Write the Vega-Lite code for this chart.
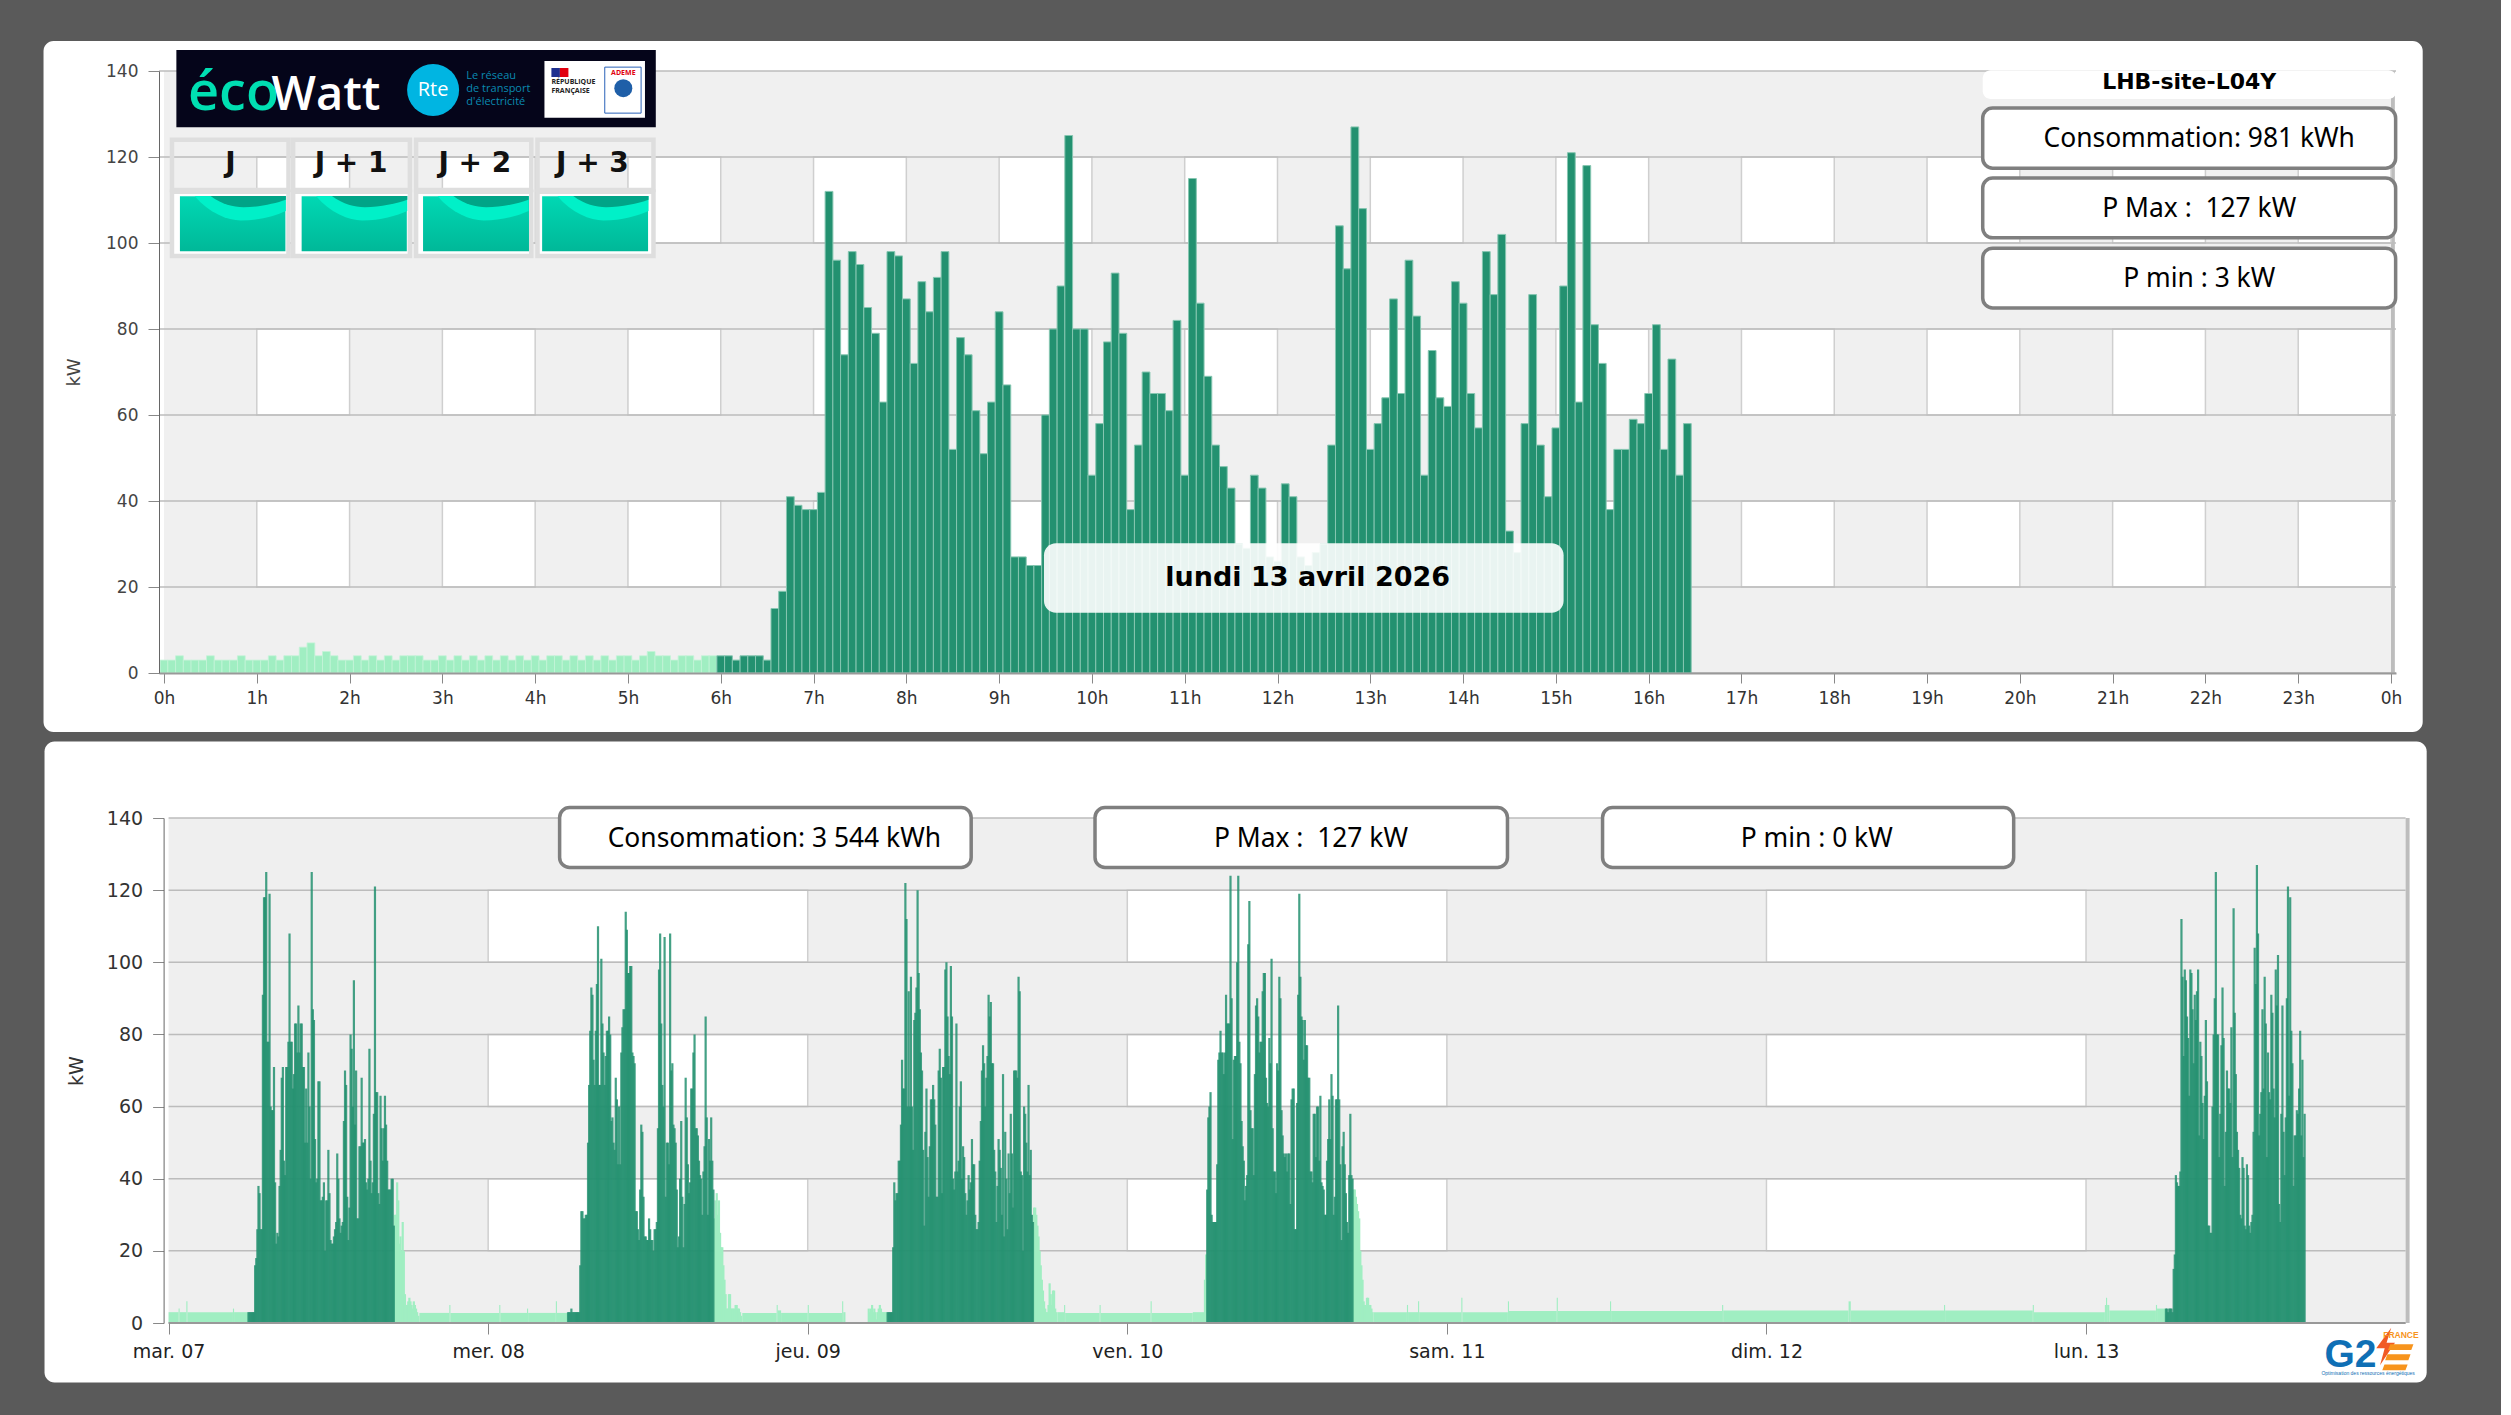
{"$schema":"https://vega.github.io/schema/vega-lite/v6.json","background":"#5a5a5a","padding":{"left":43,"top":40,"right":74,"bottom":34},"spacing":9,"bounds":"full","config":{"view":{"stroke":null},"text":{"font":"DejaVu Sans"}},
"datasets":{
"gridY":[{"v":0},{"v":20},{"v":40},{"v":60},{"v":80},{"v":100},{"v":120},{"v":140}],
"cellsTop":[{"a":12,"b":24,"lo":100,"hi":120},{"a":36,"b":48,"lo":100,"hi":120},{"a":60,"b":72,"lo":100,"hi":120},{"a":84,"b":96,"lo":100,"hi":120},{"a":108,"b":120,"lo":100,"hi":120},{"a":132,"b":144,"lo":100,"hi":120},{"a":156,"b":168,"lo":100,"hi":120},{"a":180,"b":192,"lo":100,"hi":120},{"a":204,"b":216,"lo":100,"hi":120},{"a":228,"b":240,"lo":100,"hi":120},{"a":252,"b":264,"lo":100,"hi":120},{"a":276,"b":288,"lo":100,"hi":120},{"a":12,"b":24,"lo":60,"hi":80},{"a":36,"b":48,"lo":60,"hi":80},{"a":60,"b":72,"lo":60,"hi":80},{"a":84,"b":96,"lo":60,"hi":80},{"a":108,"b":120,"lo":60,"hi":80},{"a":132,"b":144,"lo":60,"hi":80},{"a":156,"b":168,"lo":60,"hi":80},{"a":180,"b":192,"lo":60,"hi":80},{"a":204,"b":216,"lo":60,"hi":80},{"a":228,"b":240,"lo":60,"hi":80},{"a":252,"b":264,"lo":60,"hi":80},{"a":276,"b":288,"lo":60,"hi":80},{"a":12,"b":24,"lo":20,"hi":40},{"a":36,"b":48,"lo":20,"hi":40},{"a":60,"b":72,"lo":20,"hi":40},{"a":84,"b":96,"lo":20,"hi":40},{"a":108,"b":120,"lo":20,"hi":40},{"a":132,"b":144,"lo":20,"hi":40},{"a":156,"b":168,"lo":20,"hi":40},{"a":180,"b":192,"lo":20,"hi":40},{"a":204,"b":216,"lo":20,"hi":40},{"a":228,"b":240,"lo":20,"hi":40},{"a":252,"b":264,"lo":20,"hi":40},{"a":276,"b":288,"lo":20,"hi":40}],
"cellsWeek":[{"a":288,"b":576,"lo":100,"hi":120},{"a":864,"b":1152,"lo":100,"hi":120},{"a":1440,"b":1728,"lo":100,"hi":120},{"a":288,"b":576,"lo":60,"hi":80},{"a":864,"b":1152,"lo":60,"hi":80},{"a":1440,"b":1728,"lo":60,"hi":80},{"a":288,"b":576,"lo":20,"hi":40},{"a":864,"b":1152,"lo":20,"hi":40},{"a":1440,"b":1728,"lo":20,"hi":40}],
"topOff":[{"s":0,"v":3},{"s":1,"v":3},{"s":2,"v":4},{"s":3,"v":3},{"s":4,"v":3},{"s":5,"v":3},{"s":6,"v":4},{"s":7,"v":3},{"s":8,"v":3},{"s":9,"v":3},{"s":10,"v":4},{"s":11,"v":3},{"s":12,"v":3},{"s":13,"v":3},{"s":14,"v":4},{"s":15,"v":3},{"s":16,"v":4},{"s":17,"v":4},{"s":18,"v":6},{"s":19,"v":7},{"s":20,"v":4},{"s":21,"v":5},{"s":22,"v":4},{"s":23,"v":3},{"s":24,"v":3},{"s":25,"v":4},{"s":26,"v":3},{"s":27,"v":4},{"s":28,"v":3},{"s":29,"v":4},{"s":30,"v":3},{"s":31,"v":4},{"s":32,"v":4},{"s":33,"v":4},{"s":34,"v":3},{"s":35,"v":3},{"s":36,"v":4},{"s":37,"v":3},{"s":38,"v":4},{"s":39,"v":3},{"s":40,"v":4},{"s":41,"v":3},{"s":42,"v":4},{"s":43,"v":3},{"s":44,"v":4},{"s":45,"v":3},{"s":46,"v":4},{"s":47,"v":3},{"s":48,"v":4},{"s":49,"v":3},{"s":50,"v":4},{"s":51,"v":4},{"s":52,"v":3},{"s":53,"v":4},{"s":54,"v":3},{"s":55,"v":4},{"s":56,"v":3},{"s":57,"v":4},{"s":58,"v":3},{"s":59,"v":4},{"s":60,"v":4},{"s":61,"v":3},{"s":62,"v":4},{"s":63,"v":5},{"s":64,"v":4},{"s":65,"v":4},{"s":66,"v":3},{"s":67,"v":4},{"s":68,"v":4},{"s":69,"v":3},{"s":70,"v":4},{"s":71,"v":4}],
"topOn":[{"s":72,"v":4},{"s":73,"v":4},{"s":74,"v":3},{"s":75,"v":4},{"s":76,"v":4},{"s":77,"v":4},{"s":78,"v":3},{"s":79,"v":15},{"s":80,"v":19},{"s":81,"v":41},{"s":82,"v":39},{"s":83,"v":38},{"s":84,"v":38},{"s":85,"v":42},{"s":86,"v":112},{"s":87,"v":96},{"s":88,"v":74},{"s":89,"v":98},{"s":90,"v":95},{"s":91,"v":85},{"s":92,"v":79},{"s":93,"v":63},{"s":94,"v":98},{"s":95,"v":97},{"s":96,"v":87},{"s":97,"v":72},{"s":98,"v":91},{"s":99,"v":84},{"s":100,"v":92},{"s":101,"v":98},{"s":102,"v":52},{"s":103,"v":78},{"s":104,"v":74},{"s":105,"v":61},{"s":106,"v":51},{"s":107,"v":63},{"s":108,"v":84},{"s":109,"v":67},{"s":110,"v":27},{"s":111,"v":27},{"s":112,"v":25},{"s":113,"v":25},{"s":114,"v":60},{"s":115,"v":80},{"s":116,"v":90},{"s":117,"v":125},{"s":118,"v":80},{"s":119,"v":80},{"s":120,"v":46},{"s":121,"v":58},{"s":122,"v":77},{"s":123,"v":93},{"s":124,"v":79},{"s":125,"v":38},{"s":126,"v":53},{"s":127,"v":70},{"s":128,"v":65},{"s":129,"v":65},{"s":130,"v":61},{"s":131,"v":82},{"s":132,"v":46},{"s":133,"v":115},{"s":134,"v":86},{"s":135,"v":69},{"s":136,"v":53},{"s":137,"v":48},{"s":138,"v":43},{"s":139,"v":30},{"s":140,"v":29},{"s":141,"v":46},{"s":142,"v":43},{"s":143,"v":27},{"s":144,"v":26},{"s":145,"v":44},{"s":146,"v":41},{"s":147,"v":27},{"s":148,"v":25},{"s":149,"v":28},{"s":150,"v":30},{"s":151,"v":53},{"s":152,"v":104},{"s":153,"v":94},{"s":154,"v":127},{"s":155,"v":108},{"s":156,"v":52},{"s":157,"v":58},{"s":158,"v":64},{"s":159,"v":87},{"s":160,"v":65},{"s":161,"v":96},{"s":162,"v":83},{"s":163,"v":46},{"s":164,"v":75},{"s":165,"v":64},{"s":166,"v":62},{"s":167,"v":91},{"s":168,"v":86},{"s":169,"v":65},{"s":170,"v":57},{"s":171,"v":98},{"s":172,"v":88},{"s":173,"v":102},{"s":174,"v":33},{"s":175,"v":28},{"s":176,"v":58},{"s":177,"v":88},{"s":178,"v":53},{"s":179,"v":41},{"s":180,"v":57},{"s":181,"v":90},{"s":182,"v":121},{"s":183,"v":63},{"s":184,"v":118},{"s":185,"v":81},{"s":186,"v":72},{"s":187,"v":38},{"s":188,"v":52},{"s":189,"v":52},{"s":190,"v":59},{"s":191,"v":58},{"s":192,"v":65},{"s":193,"v":81},{"s":194,"v":52},{"s":195,"v":73},{"s":196,"v":46},{"s":197,"v":58}],
"weekQuiet":[{"a":0,"b":9,"v":3},{"a":9,"b":10,"v":4},{"a":10,"b":16,"v":3},{"a":16,"b":17,"v":6},{"a":17,"b":58,"v":3},{"a":58,"b":59,"v":4},{"a":59,"b":72,"v":3},{"a":226,"b":253,"v":2.8},{"a":253,"b":254,"v":5},{"a":254,"b":298,"v":2.8},{"a":298,"b":299,"v":5},{"a":299,"b":323,"v":2.8},{"a":323,"b":324,"v":4},{"a":324,"b":349,"v":2.8},{"a":349,"b":350,"v":6},{"a":350,"b":360,"v":2.8},{"a":517,"b":548,"v":2.8},{"a":548,"b":549,"v":5},{"a":549,"b":552,"v":3.5},{"a":552,"b":576,"v":2.8},{"a":576,"b":577,"v":5},{"a":577,"b":607,"v":2.8},{"a":607,"b":608,"v":6},{"a":608,"b":610,"v":3},{"a":801,"b":807,"v":3},{"a":807,"b":808,"v":5},{"a":808,"b":839,"v":2.8},{"a":839,"b":840,"v":5},{"a":840,"b":885,"v":2.8},{"a":885,"b":886,"v":6},{"a":886,"b":923,"v":2.8},{"a":923,"b":934,"v":3},{"a":1086,"b":1116,"v":3},{"a":1116,"b":1117,"v":5},{"a":1117,"b":1126,"v":3},{"a":1126,"b":1127,"v":6},{"a":1127,"b":1165,"v":3},{"a":1165,"b":1166,"v":7},{"a":1166,"b":1207,"v":3},{"a":1207,"b":1208,"v":6},{"a":1208,"b":1251,"v":3.3},{"a":1251,"b":1252,"v":7},{"a":1252,"b":1299,"v":3.3},{"a":1299,"b":1300,"v":6},{"a":1300,"b":1400,"v":3.3},{"a":1400,"b":1401,"v":5},{"a":1401,"b":1514,"v":3.5},{"a":1514,"b":1516,"v":6},{"a":1516,"b":1600,"v":3.5},{"a":1600,"b":1601,"v":5},{"a":1601,"b":1680,"v":3.5},{"a":1680,"b":1681,"v":5},{"a":1681,"b":1745,"v":3},{"a":1745,"b":1746,"v":5},{"a":1746,"b":1747,"v":7},{"a":1747,"b":1749,"v":5},{"a":1749,"b":1791,"v":3.5},{"a":1791,"b":1792,"v":5},{"a":1792,"b":1800,"v":4}],
"weekOff":[{"s":204,"v":30},{"s":205,"v":30},{"s":206,"v":39},{"s":207,"v":34},{"s":208,"v":22},{"s":209,"v":24},{"s":210,"v":20},{"s":211,"v":28},{"s":212,"v":20},{"s":213,"v":8},{"s":214,"v":5},{"s":215,"v":5},{"s":216,"v":6},{"s":217,"v":7},{"s":218,"v":6},{"s":219,"v":5},{"s":220,"v":4},{"s":221,"v":6},{"s":222,"v":5},{"s":223,"v":4},{"s":224,"v":3},{"s":225,"v":2},
{"s":492,"v":29},{"s":493,"v":34},{"s":494,"v":36},{"s":495,"v":30},{"s":496,"v":34},{"s":497,"v":25},{"s":498,"v":21},{"s":499,"v":21},{"s":500,"v":16},{"s":501,"v":12},{"s":502,"v":8},{"s":503,"v":4},{"s":504,"v":4},{"s":505,"v":8},{"s":506,"v":8},{"s":507,"v":4},{"s":508,"v":4},{"s":509,"v":4},{"s":510,"v":4},{"s":511,"v":5},{"s":512,"v":5},{"s":513,"v":4},{"s":514,"v":4},{"s":515,"v":3},{"s":516,"v":2},
{"s":631,"v":4},{"s":632,"v":3},{"s":633,"v":4},{"s":634,"v":5},{"s":635,"v":3},{"s":636,"v":4},{"s":637,"v":3},{"s":638,"v":1},{"s":639,"v":3},{"s":640,"v":4},{"s":641,"v":5},{"s":642,"v":4},{"s":643,"v":3},{"s":644,"v":3},{"s":645,"v":3},{"s":646,"v":3},{"s":647,"v":3},
{"s":780,"v":32},{"s":781,"v":32},{"s":782,"v":30},{"s":783,"v":27},{"s":784,"v":24},{"s":785,"v":20},{"s":786,"v":16},{"s":787,"v":12},{"s":788,"v":9},{"s":789,"v":6},{"s":790,"v":4},{"s":791,"v":3},{"s":792,"v":3},{"s":793,"v":5},{"s":794,"v":11},{"s":795,"v":8},{"s":796,"v":5},{"s":797,"v":9},{"s":798,"v":9},{"s":799,"v":4},{"s":800,"v":3},
{"s":934,"v":12},{"s":935,"v":19},
{"s":1068,"v":37},{"s":1069,"v":37},{"s":1070,"v":35},{"s":1071,"v":33},{"s":1072,"v":31},{"s":1073,"v":29},{"s":1074,"v":20},{"s":1075,"v":16},{"s":1076,"v":12},{"s":1077,"v":6},{"s":1078,"v":5},{"s":1079,"v":5},{"s":1080,"v":7},{"s":1081,"v":7},{"s":1082,"v":5},{"s":1083,"v":5},{"s":1084,"v":4},{"s":1085,"v":3}],
"weekOn":[{"s":72,"v":3},{"s":73,"v":3},{"s":74,"v":3},{"s":75,"v":3},{"s":76,"v":3},{"s":77,"v":3},{"s":78,"v":16},{"s":79,"v":18},{"s":80,"v":26},{"s":81,"v":38},{"s":82,"v":36},{"s":83,"v":26},{"s":84,"v":26},{"s":85,"v":91},{"s":86,"v":118},{"s":87,"v":118},{"s":88,"v":125},{"s":89,"v":78},{"s":90,"v":78},{"s":91,"v":119},{"s":92,"v":60},{"s":93,"v":59},{"s":94,"v":59},{"s":95,"v":71},{"s":96,"v":39},{"s":97,"v":22},{"s":98,"v":25},{"s":99,"v":24},{"s":100,"v":38},{"s":101,"v":48},{"s":102,"v":68},{"s":103,"v":71},{"s":104,"v":45},{"s":105,"v":41},{"s":106,"v":71},{"s":107,"v":71},{"s":108,"v":78},{"s":109,"v":108},{"s":110,"v":78},{"s":111,"v":78},{"s":112,"v":65},{"s":113,"v":69},{"s":114,"v":83},{"s":115,"v":83},{"s":116,"v":75},{"s":117,"v":88},{"s":118,"v":75},{"s":119,"v":83},{"s":120,"v":83},{"s":121,"v":71},{"s":122,"v":71},{"s":123,"v":50},{"s":124,"v":65},{"s":125,"v":50},{"s":126,"v":75},{"s":127,"v":60},{"s":128,"v":40},{"s":129,"v":125},{"s":130,"v":87},{"s":131,"v":84},{"s":132,"v":51},{"s":133,"v":39},{"s":134,"v":40},{"s":135,"v":67},{"s":136,"v":67},{"s":137,"v":34},{"s":138,"v":34},{"s":139,"v":35},{"s":140,"v":39},{"s":141,"v":20},{"s":142,"v":34},{"s":143,"v":34},{"s":144,"v":48},{"s":145,"v":36},{"s":146,"v":23},{"s":147,"v":22},{"s":148,"v":22},{"s":149,"v":24},{"s":150,"v":26},{"s":151,"v":28},{"s":152,"v":47},{"s":153,"v":40},{"s":154,"v":29},{"s":155,"v":25},{"s":156,"v":27},{"s":157,"v":28},{"s":158,"v":56},{"s":159,"v":70},{"s":160,"v":66},{"s":161,"v":35},{"s":162,"v":23},{"s":163,"v":32},{"s":164,"v":80},{"s":165,"v":76},{"s":166,"v":60},{"s":167,"v":95},{"s":168,"v":55},{"s":169,"v":70},{"s":170,"v":29},{"s":171,"v":29},{"s":172,"v":49},{"s":173,"v":49},{"s":174,"v":68},{"s":175,"v":50},{"s":176,"v":50},{"s":177,"v":51},{"s":178,"v":39},{"s":179,"v":37},{"s":180,"v":40},{"s":181,"v":76},{"s":182,"v":45},{"s":183,"v":36},{"s":184,"v":39},{"s":185,"v":58},{"s":186,"v":121},{"s":187,"v":64},{"s":188,"v":64},{"s":189,"v":36},{"s":190,"v":33},{"s":191,"v":63},{"s":192,"v":54},{"s":193,"v":45},{"s":194,"v":54},{"s":195,"v":63},{"s":196,"v":55},{"s":197,"v":45},{"s":198,"v":37},{"s":199,"v":37},{"s":200,"v":37},{"s":201,"v":40},{"s":202,"v":40},{"s":203,"v":27},
{"s":360,"v":3},{"s":361,"v":3},{"s":362,"v":3},{"s":363,"v":4},{"s":364,"v":3},{"s":365,"v":3},{"s":366,"v":3},{"s":367,"v":3},{"s":368,"v":3},{"s":369,"v":3},{"s":370,"v":3},{"s":371,"v":16},{"s":372,"v":31},{"s":373,"v":31},{"s":374,"v":29},{"s":375,"v":29},{"s":376,"v":30},{"s":377,"v":30},{"s":378,"v":50},{"s":379,"v":66},{"s":380,"v":81},{"s":381,"v":93},{"s":382,"v":91},{"s":383,"v":73},{"s":384,"v":66},{"s":385,"v":81},{"s":386,"v":94},{"s":387,"v":110},{"s":388,"v":66},{"s":389,"v":66},{"s":390,"v":101},{"s":391,"v":83},{"s":392,"v":75},{"s":393,"v":66},{"s":394,"v":74},{"s":395,"v":81},{"s":396,"v":81},{"s":397,"v":85},{"s":398,"v":80},{"s":399,"v":56},{"s":400,"v":57},{"s":401,"v":50},{"s":402,"v":48},{"s":403,"v":68},{"s":404,"v":62},{"s":405,"v":44},{"s":406,"v":60},{"s":407,"v":44},{"s":408,"v":75},{"s":409,"v":82},{"s":410,"v":87},{"s":411,"v":87},{"s":412,"v":114},{"s":413,"v":109},{"s":414,"v":97},{"s":415,"v":97},{"s":416,"v":99},{"s":417,"v":99},{"s":418,"v":75},{"s":419,"v":74},{"s":420,"v":72},{"s":421,"v":31},{"s":422,"v":31},{"s":423,"v":26},{"s":424,"v":23},{"s":425,"v":37},{"s":426,"v":55},{"s":427,"v":53},{"s":428,"v":35},{"s":429,"v":24},{"s":430,"v":24},{"s":431,"v":23},{"s":432,"v":23},{"s":433,"v":29},{"s":434,"v":26},{"s":435,"v":23},{"s":436,"v":23},{"s":437,"v":20},{"s":438,"v":26},{"s":439,"v":26},{"s":440,"v":28},{"s":441,"v":54},{"s":442,"v":98},{"s":443,"v":108},{"s":444,"v":83},{"s":445,"v":66},{"s":446,"v":60},{"s":447,"v":107},{"s":448,"v":35},{"s":449,"v":50},{"s":450,"v":50},{"s":451,"v":44},{"s":452,"v":108},{"s":453,"v":70},{"s":454,"v":72},{"s":455,"v":55},{"s":456,"v":54},{"s":457,"v":50},{"s":458,"v":37},{"s":459,"v":21},{"s":460,"v":24},{"s":461,"v":40},{"s":462,"v":56},{"s":463,"v":35},{"s":464,"v":21},{"s":465,"v":33},{"s":466,"v":68},{"s":467,"v":57},{"s":468,"v":44},{"s":469,"v":36},{"s":470,"v":39},{"s":471,"v":65},{"s":472,"v":65},{"s":473,"v":75},{"s":474,"v":80},{"s":475,"v":54},{"s":476,"v":54},{"s":477,"v":52},{"s":478,"v":45},{"s":479,"v":41},{"s":480,"v":40},{"s":481,"v":30},{"s":482,"v":42},{"s":483,"v":49},{"s":484,"v":85},{"s":485,"v":57},{"s":486,"v":30},{"s":487,"v":51},{"s":488,"v":45},{"s":489,"v":57},{"s":490,"v":45},{"s":491,"v":37},
{"s":648,"v":3},{"s":649,"v":3},{"s":650,"v":3},{"s":651,"v":3},{"s":652,"v":3},{"s":653,"v":21},{"s":654,"v":39},{"s":655,"v":34},{"s":656,"v":36},{"s":657,"v":36},{"s":658,"v":45},{"s":659,"v":45},{"s":660,"v":55},{"s":661,"v":73},{"s":662,"v":65},{"s":663,"v":65},{"s":664,"v":122},{"s":665,"v":112},{"s":666,"v":60},{"s":667,"v":92},{"s":668,"v":60},{"s":669,"v":96},{"s":670,"v":60},{"s":671,"v":48},{"s":672,"v":84},{"s":673,"v":86},{"s":674,"v":93},{"s":675,"v":120},{"s":676,"v":97},{"s":677,"v":87},{"s":678,"v":75},{"s":679,"v":70},{"s":680,"v":48},{"s":681,"v":27},{"s":682,"v":53},{"s":683,"v":65},{"s":684,"v":46},{"s":685,"v":35},{"s":686,"v":49},{"s":687,"v":62},{"s":688,"v":62},{"s":689,"v":66},{"s":690,"v":62},{"s":691,"v":55},{"s":692,"v":35},{"s":693,"v":35},{"s":694,"v":70},{"s":695,"v":76},{"s":696,"v":68},{"s":697,"v":36},{"s":698,"v":71},{"s":699,"v":71},{"s":700,"v":98},{"s":701,"v":100},{"s":702,"v":85},{"s":703,"v":74},{"s":704,"v":69},{"s":705,"v":99},{"s":706,"v":85},{"s":707,"v":40},{"s":708,"v":37},{"s":709,"v":42},{"s":710,"v":83},{"s":711,"v":42},{"s":712,"v":45},{"s":713,"v":60},{"s":714,"v":67},{"s":715,"v":40},{"s":716,"v":49},{"s":717,"v":46},{"s":718,"v":36},{"s":719,"v":30},{"s":720,"v":34},{"s":721,"v":41},{"s":722,"v":37},{"s":723,"v":39},{"s":724,"v":51},{"s":725,"v":44},{"s":726,"v":44},{"s":727,"v":30},{"s":728,"v":26},{"s":729,"v":26},{"s":730,"v":28},{"s":731,"v":45},{"s":732,"v":56},{"s":733,"v":70},{"s":734,"v":77},{"s":735,"v":72},{"s":736,"v":60},{"s":737,"v":68},{"s":738,"v":74},{"s":739,"v":91},{"s":740,"v":85},{"s":741,"v":89},{"s":742,"v":72},{"s":743,"v":72},{"s":744,"v":48},{"s":745,"v":42},{"s":746,"v":28},{"s":747,"v":38},{"s":748,"v":51},{"s":749,"v":48},{"s":750,"v":43},{"s":751,"v":30},{"s":752,"v":69},{"s":753,"v":24},{"s":754,"v":53},{"s":755,"v":40},{"s":756,"v":26},{"s":757,"v":47},{"s":758,"v":36},{"s":759,"v":58},{"s":760,"v":47},{"s":761,"v":32},{"s":762,"v":70},{"s":763,"v":70},{"s":764,"v":70},{"s":765,"v":68},{"s":766,"v":96},{"s":767,"v":92},{"s":768,"v":42},{"s":769,"v":41},{"s":770,"v":20},{"s":771,"v":60},{"s":772,"v":58},{"s":773,"v":50},{"s":774,"v":42},{"s":775,"v":66},{"s":776,"v":41},{"s":777,"v":48},{"s":778,"v":30},{"s":779,"v":28},
{"s":936,"v":37},{"s":937,"v":57},{"s":938,"v":60},{"s":939,"v":64},{"s":940,"v":30},{"s":941,"v":28},{"s":942,"v":28},{"s":943,"v":28},{"s":944,"v":28},{"s":945,"v":44},{"s":946,"v":73},{"s":947,"v":75},{"s":948,"v":81},{"s":949,"v":75},{"s":950,"v":75},{"s":951,"v":69},{"s":952,"v":75},{"s":953,"v":91},{"s":954,"v":83},{"s":955,"v":83},{"s":956,"v":83},{"s":957,"v":124},{"s":958,"v":90},{"s":959,"v":51},{"s":960,"v":73},{"s":961,"v":74},{"s":962,"v":74},{"s":963,"v":100},{"s":964,"v":124},{"s":965,"v":78},{"s":966,"v":72},{"s":967,"v":56},{"s":968,"v":49},{"s":969,"v":45},{"s":970,"v":34},{"s":971,"v":38},{"s":972,"v":41},{"s":973,"v":105},{"s":974,"v":117},{"s":975,"v":59},{"s":976,"v":54},{"s":977,"v":54},{"s":978,"v":41},{"s":979,"v":69},{"s":980,"v":88},{"s":981,"v":90},{"s":982,"v":85},{"s":983,"v":75},{"s":984,"v":78},{"s":985,"v":78},{"s":986,"v":92},{"s":987,"v":97},{"s":988,"v":97},{"s":989,"v":68},{"s":990,"v":61},{"s":991,"v":60},{"s":992,"v":79},{"s":993,"v":72},{"s":994,"v":101},{"s":995,"v":54},{"s":996,"v":42},{"s":997,"v":42},{"s":998,"v":36},{"s":999,"v":72},{"s":1000,"v":70},{"s":1001,"v":96},{"s":1002,"v":90},{"s":1003,"v":59},{"s":1004,"v":52},{"s":1005,"v":47},{"s":1006,"v":46},{"s":1007,"v":47},{"s":1008,"v":42},{"s":1009,"v":47},{"s":1010,"v":47},{"s":1011,"v":33},{"s":1012,"v":62},{"s":1013,"v":65},{"s":1014,"v":65},{"s":1015,"v":26},{"s":1016,"v":26},{"s":1017,"v":61},{"s":1018,"v":91},{"s":1019,"v":119},{"s":1020,"v":96},{"s":1021,"v":85},{"s":1022,"v":84},{"s":1023,"v":73},{"s":1024,"v":84},{"s":1025,"v":77},{"s":1026,"v":77},{"s":1027,"v":68},{"s":1028,"v":68},{"s":1029,"v":42},{"s":1030,"v":42},{"s":1031,"v":39},{"s":1032,"v":58},{"s":1033,"v":58},{"s":1034,"v":46},{"s":1035,"v":60},{"s":1036,"v":60},{"s":1037,"v":45},{"s":1038,"v":63},{"s":1039,"v":39},{"s":1040,"v":38},{"s":1041,"v":37},{"s":1042,"v":30},{"s":1043,"v":30},{"s":1044,"v":45},{"s":1045,"v":51},{"s":1046,"v":62},{"s":1047,"v":51},{"s":1048,"v":69},{"s":1049,"v":63},{"s":1050,"v":30},{"s":1051,"v":35},{"s":1052,"v":62},{"s":1053,"v":62},{"s":1054,"v":88},{"s":1055,"v":62},{"s":1056,"v":44},{"s":1057,"v":23},{"s":1058,"v":49},{"s":1059,"v":53},{"s":1060,"v":44},{"s":1061,"v":36},{"s":1062,"v":28},{"s":1063,"v":25},{"s":1064,"v":41},{"s":1065,"v":58},{"s":1066,"v":41},{"s":1067,"v":40},
{"s":1800,"v":4},{"s":1801,"v":4},{"s":1802,"v":3},{"s":1803,"v":4},{"s":1804,"v":4},{"s":1805,"v":4},{"s":1806,"v":3},{"s":1807,"v":15},{"s":1808,"v":19},{"s":1809,"v":41},{"s":1810,"v":39},{"s":1811,"v":38},{"s":1812,"v":38},{"s":1813,"v":42},{"s":1814,"v":112},{"s":1815,"v":96},{"s":1816,"v":74},{"s":1817,"v":98},{"s":1818,"v":95},{"s":1819,"v":85},{"s":1820,"v":79},{"s":1821,"v":63},{"s":1822,"v":98},{"s":1823,"v":97},{"s":1824,"v":87},{"s":1825,"v":72},{"s":1826,"v":91},{"s":1827,"v":84},{"s":1828,"v":92},{"s":1829,"v":98},{"s":1830,"v":52},{"s":1831,"v":78},{"s":1832,"v":74},{"s":1833,"v":61},{"s":1834,"v":51},{"s":1835,"v":63},{"s":1836,"v":84},{"s":1837,"v":67},{"s":1838,"v":27},{"s":1839,"v":27},{"s":1840,"v":25},{"s":1841,"v":25},{"s":1842,"v":60},{"s":1843,"v":80},{"s":1844,"v":90},{"s":1845,"v":125},{"s":1846,"v":80},{"s":1847,"v":80},{"s":1848,"v":46},{"s":1849,"v":58},{"s":1850,"v":77},{"s":1851,"v":93},{"s":1852,"v":79},{"s":1853,"v":38},{"s":1854,"v":53},{"s":1855,"v":70},{"s":1856,"v":65},{"s":1857,"v":65},{"s":1858,"v":61},{"s":1859,"v":82},{"s":1860,"v":46},{"s":1861,"v":115},{"s":1862,"v":86},{"s":1863,"v":69},{"s":1864,"v":53},{"s":1865,"v":48},{"s":1866,"v":43},{"s":1867,"v":30},{"s":1868,"v":29},{"s":1869,"v":46},{"s":1870,"v":43},{"s":1871,"v":27},{"s":1872,"v":26},{"s":1873,"v":44},{"s":1874,"v":41},{"s":1875,"v":27},{"s":1876,"v":25},{"s":1877,"v":28},{"s":1878,"v":30},{"s":1879,"v":53},{"s":1880,"v":104},{"s":1881,"v":94},{"s":1882,"v":127},{"s":1883,"v":108},{"s":1884,"v":52},{"s":1885,"v":58},{"s":1886,"v":64},{"s":1887,"v":87},{"s":1888,"v":65},{"s":1889,"v":96},{"s":1890,"v":83},{"s":1891,"v":46},{"s":1892,"v":75},{"s":1893,"v":64},{"s":1894,"v":62},{"s":1895,"v":91},{"s":1896,"v":86},{"s":1897,"v":65},{"s":1898,"v":57},{"s":1899,"v":98},{"s":1900,"v":88},{"s":1901,"v":102},{"s":1902,"v":33},{"s":1903,"v":28},{"s":1904,"v":58},{"s":1905,"v":88},{"s":1906,"v":53},{"s":1907,"v":41},{"s":1908,"v":57},{"s":1909,"v":90},{"s":1910,"v":121},{"s":1911,"v":63},{"s":1912,"v":118},{"s":1913,"v":81},{"s":1914,"v":72},{"s":1915,"v":38},{"s":1916,"v":52},{"s":1917,"v":52},{"s":1918,"v":59},{"s":1919,"v":58},{"s":1920,"v":65},{"s":1921,"v":81},{"s":1922,"v":52},{"s":1923,"v":73},{"s":1924,"v":46},{"s":1925,"v":58}]
},
"vconcat":[
{"width":2237,"height":602,"layer":[
{"data":{"values":[{"a":-15.58,"b":292.1,"lo":-13.7,"hi":147}]},"mark":{"type":"rect","fill":"#ffffff","cornerRadius":10},"encoding":{
"x":{"field":"a","type":"quantitative","scale":{"domain":[0,288],"nice":false,"zero":false},"title":null,"axis":{"values":[0,12,24,36,48,60,72,84,96,108,120,132,144,156,168,180,192,204,216,228,240,252,264,276,288],"labelExpr":"(datum.value/12)%24+'h'","grid":false,"zindex":1,"domainColor":"#999999","domainWidth":2,"tickColor":"#888888","tickSize":10,"labelFontSize":17,"labelFont":"DejaVu Sans","labelColor":"#333333","labelPadding":7,"labelOverlap":false,"labelFlush":false}},"x2":{"field":"b"},
"y":{"field":"lo","type":"quantitative","scale":{"domain":[0,140],"nice":false,"zero":false},"title":"kW","axis":{"values":[0,20,40,60,80,100,120,140],"grid":false,"zindex":1,"domainColor":"#666666","tickColor":"#888888","tickSize":11,"labelFontSize":17,"labelFont":"DejaVu Sans","labelColor":"#444444","labelPadding":10,"titleFontSize":18,"titleFont":"DejaVu Sans","titleFontWeight":"normal","titleColor":"#444444","titlePadding":22}},"y2":{"field":"hi"}}},
{"data":{"values":[{"a":0,"b":288,"lo":0,"hi":140}]},"mark":{"type":"rect","fill":"#f0f0f0"},"encoding":{"x":{"field":"a","type":"quantitative"},"x2":{"field":"b"},"y":{"field":"lo","type":"quantitative"},"y2":{"field":"hi"}}},
{"data":{"values":[{"a":288,"b":288.5,"lo":0,"hi":140}]},"mark":{"type":"rect","fill":"#bdbdbd"},"encoding":{"x":{"field":"a","type":"quantitative"},"x2":{"field":"b"},"y":{"field":"lo","type":"quantitative"},"y2":{"field":"hi"}}},
{"data":{"name":"cellsTop"},"mark":{"type":"rect","fill":"#ffffff","stroke":"#cfcfcf","strokeWidth":1.5},"encoding":{"x":{"field":"a","type":"quantitative"},"x2":{"field":"b"},"y":{"field":"lo","type":"quantitative"},"y2":{"field":"hi"}}},
{"data":{"name":"gridY"},"mark":{"type":"rule","color":"#bcbcbc","strokeWidth":1.5},"encoding":{"y":{"field":"v","type":"quantitative"}}},
{"data":{"name":"topOff"},"mark":{"type":"bar","orient":"vertical","width":7.77,"fill":"#a0eec2","stroke":"#c4f4d8","strokeWidth":0.8},"encoding":{"x":{"field":"s","type":"quantitative"},"y":{"field":"v","type":"quantitative"}}},
{"data":{"name":"topOn"},"mark":{"type":"bar","orient":"vertical","width":7.77,"fill":"#239170","stroke":"#86c6b1","strokeWidth":1},"encoding":{"x":{"field":"s","type":"quantitative"},"y":{"field":"v","type":"quantitative"}}},
{"data":{"values":[{"a":1.6,"b":63.6,"lo":126.9,"hi":144.9}]},"mark":{"type":"rect","fill":"#05051a"},"encoding":{"x":{"field":"a","type":"quantitative"},"x2":{"field":"b"},"y":{"field":"lo","type":"quantitative"},"y2":{"field":"hi"}}},
{"data":{"values":[{"s":3.1,"v":131,"t":"éco"}]},"mark":{"type":"text","font":"Open Sans","fontSize":54,"fontWeight":600,"fill":"#00dfb2","align":"left","baseline":"alphabetic"},"encoding":{"x":{"field":"s","type":"quantitative"},"y":{"field":"v","type":"quantitative"},"text":{"field":"t"}}},
{"data":{"values":[{"s":13.9,"v":131,"t":"Watt"}]},"mark":{"type":"text","font":"Open Sans","fontSize":47,"fontWeight":600,"fill":"#ffffff","align":"left","baseline":"alphabetic"},"encoding":{"x":{"field":"s","type":"quantitative"},"y":{"field":"v","type":"quantitative"},"text":{"field":"t"}}},
{"data":{"values":[{"s":34.8,"v":135.6}]},"mark":{"type":"point","shape":"circle","filled":true,"opacity":1,"size":2704,"fill":"#00b5e2"},"encoding":{"x":{"field":"s","type":"quantitative"},"y":{"field":"v","type":"quantitative"}}},
{"data":{"values":[{"s":34.8,"v":135.6,"t":"Rte"}]},"mark":{"type":"text","font":"Open Sans","fontSize":20,"fill":"#ffffff"},"encoding":{"x":{"field":"s","type":"quantitative"},"y":{"field":"v","type":"quantitative"},"text":{"field":"t"}}},
{"data":{"values":[{"s":39.1,"v":138.8,"t":"Le réseau"},{"s":39.1,"v":135.8,"t":"de transport"},{"s":39.1,"v":132.8,"t":"d'électricité"}]},"mark":{"type":"text","font":"Open Sans","fontSize":11,"fill":"#0a8ab0","align":"left"},"encoding":{"x":{"field":"s","type":"quantitative"},"y":{"field":"v","type":"quantitative"},"text":{"field":"t"}}},
{"data":{"values":[{"a":49.2,"b":62.2,"lo":129.1,"hi":142.3}]},"mark":{"type":"rect","fill":"#ffffff"},"encoding":{"x":{"field":"a","type":"quantitative"},"x2":{"field":"b"},"y":{"field":"lo","type":"quantitative"},"y2":{"field":"hi"}}},
{"data":{"values":[{"a":57,"b":61.7,"lo":130.2,"hi":140.9}]},"mark":{"type":"rect","fill":"#ffffff","stroke":"#2a62b8","strokeWidth":1},"encoding":{"x":{"field":"a","type":"quantitative"},"x2":{"field":"b"},"y":{"field":"lo","type":"quantitative"},"y2":{"field":"hi"}}},
{"data":{"values":[{"a":50.1,"b":51.2,"lo":138.6,"hi":140.7}]},"mark":{"type":"rect","fill":"#1e2f8f"},"encoding":{"x":{"field":"a","type":"quantitative"},"x2":{"field":"b"},"y":{"field":"lo","type":"quantitative"},"y2":{"field":"hi"}}},
{"data":{"values":[{"a":51.2,"b":52.3,"lo":138.6,"hi":140.7}]},"mark":{"type":"rect","fill":"#e1000f"},"encoding":{"x":{"field":"a","type":"quantitative"},"x2":{"field":"b"},"y":{"field":"lo","type":"quantitative"},"y2":{"field":"hi"}}},
{"data":{"values":[{"s":50.1,"v":137.4,"t":"RÉPUBLIQUE"},{"s":50.1,"v":135.3,"t":"FRANÇAISE"}]},"mark":{"type":"text","font":"Open Sans","fontSize":7,"fontWeight":"bold","fill":"#222222","align":"left"},"encoding":{"x":{"field":"s","type":"quantitative"},"y":{"field":"v","type":"quantitative"},"text":{"field":"t"}}},
{"data":{"values":[{"s":59.4,"v":139.5,"t":"ADEME"}]},"mark":{"type":"text","font":"Open Sans","fontSize":7,"fontWeight":"bold","fill":"#e1000f"},"encoding":{"x":{"field":"s","type":"quantitative"},"y":{"field":"v","type":"quantitative"},"text":{"field":"t"}}},
{"data":{"values":[{"s":59.4,"v":136}]},"mark":{"type":"point","shape":"circle","filled":true,"opacity":1,"size":324,"fill":"#1f5fa8"},"encoding":{"x":{"field":"s","type":"quantitative"},"y":{"field":"v","type":"quantitative"}}},
{"data":{"values":[{"a":1.03,"b":16.1,"lo":112.3,"hi":124},{"a":16.7,"b":31.8,"lo":112.3,"hi":124},{"a":32.6,"b":47.5,"lo":112.3,"hi":124},{"a":48.3,"b":63.3,"lo":112.3,"hi":124}]},"mark":{"type":"rect","fillOpacity":0,"stroke":"#dedede","strokeWidth":4.5},"encoding":{"x":{"field":"a","type":"quantitative"},"x2":{"field":"b"},"y":{"field":"lo","type":"quantitative"},"y2":{"field":"hi"}}},
{"data":{"values":[{"a":1.03,"b":16.1,"lo":97,"hi":111.9},{"a":16.7,"b":31.8,"lo":97,"hi":111.9},{"a":32.6,"b":47.5,"lo":97,"hi":111.9},{"a":48.3,"b":63.3,"lo":97,"hi":111.9}]},"mark":{"type":"rect","fill":"#ffffff","stroke":"#dedede","strokeWidth":4.5},"encoding":{"x":{"field":"a","type":"quantitative"},"x2":{"field":"b"},"y":{"field":"lo","type":"quantitative"},"y2":{"field":"hi"}}},
{"data":{"values":[{"a":2.06,"b":15.7,"lo":98.1,"hi":110.9},{"a":17.8,"b":31.4,"lo":98.1,"hi":110.9},{"a":33.5,"b":47.2,"lo":98.1,"hi":110.9},{"a":48.9,"b":62.6,"lo":98.1,"hi":110.9}]},"mark":{"type":"rect","fill":{"gradient":"linear","x1":0,"y1":0,"x2":0,"y2":1,"stops":[{"offset":0,"color":"#00d8b4"},{"offset":1,"color":"#00b898"}]}},"encoding":{"x":{"field":"a","type":"quantitative"},"x2":{"field":"b"},"y":{"field":"lo","type":"quantitative"},"y2":{"field":"hi"}}},
{"data":{"values":[{"s":8.9,"v":104.5},{"s":24.6,"v":104.5},{"s":40.3,"v":104.5},{"s":55.8,"v":104.5}]},"mark":{"type":"point","filled":true,"opacity":1,"size":11236,"fill":"#00f0c8","shape":"M-0.72,-0.52 C-0.45,-0.2 -0.1,-0.06 0.15,-0.06 C0.5,-0.06 0.8,-0.15 1,-0.24 L1,-0.52 Z"},"encoding":{"x":{"field":"s","type":"quantitative"},"y":{"field":"v","type":"quantitative"}}},
{"data":{"values":[{"s":8.9,"v":104.5},{"s":24.6,"v":104.5},{"s":40.3,"v":104.5},{"s":55.8,"v":104.5}]},"mark":{"type":"point","filled":true,"opacity":1,"size":11236,"fill":"#00a487","shape":"M-0.42,-0.52 C-0.2,-0.36 0,-0.31 0.2,-0.31 C0.5,-0.31 0.8,-0.38 1,-0.45 L1,-0.52 Z"},"encoding":{"x":{"field":"s","type":"quantitative"},"y":{"field":"v","type":"quantitative"}}},
{"data":{"values":[{"s":8.6,"v":118.4,"t":"J"},{"s":24.2,"v":118.4,"t":"J + 1"},{"s":40.2,"v":118.4,"t":"J + 2"},{"s":55.4,"v":118.4,"t":"J + 3"}]},"mark":{"type":"text","font":"DejaVu Sans","fontSize":28,"fontWeight":"bold","fill":"#111111"},"encoding":{"x":{"field":"s","type":"quantitative"},"y":{"field":"v","type":"quantitative"},"text":{"field":"t"}}},
{"data":{"values":[{"a":235.2,"b":288.7,"lo":133.5,"hi":140.2}]},"mark":{"type":"rect","fill":"#ffffff","cornerRadius":8},"encoding":{"x":{"field":"a","type":"quantitative"},"x2":{"field":"b"},"y":{"field":"lo","type":"quantitative"},"y2":{"field":"hi"}}},
{"data":{"values":[{"s":261.9,"v":137.4,"t":"LHB-site-L04Y"}]},"mark":{"type":"text","font":"DejaVu Sans","fontSize":22,"fontWeight":"bold","fill":"#000000"},"encoding":{"x":{"field":"s","type":"quantitative"},"y":{"field":"v","type":"quantitative"},"text":{"field":"t"}}},
{"data":{"values":[{"a":235.2,"b":288.6,"lo":117.4,"hi":131.4},{"a":235.2,"b":288.6,"lo":101.2,"hi":115.1},{"a":235.2,"b":288.6,"lo":84.9,"hi":98.8}]},"mark":{"type":"rect","fill":"#ffffff","stroke":"#7f7f7f","strokeWidth":3.5,"cornerRadius":10},"encoding":{"x":{"field":"a","type":"quantitative"},"x2":{"field":"b"},"y":{"field":"lo","type":"quantitative"},"y2":{"field":"hi"}}},
{"data":{"values":[{"s":263.2,"v":124.2,"t":"Consommation: 981 kWh"},{"s":263.2,"v":107.9,"t":"P Max :\u00a0 127 kW"},{"s":263.2,"v":91.6,"t":"P min : 3 kW"}]},"mark":{"type":"text","font":"Noto Sans","fontSize":26.4,"fill":"#000000"},"encoding":{"x":{"field":"s","type":"quantitative"},"y":{"field":"v","type":"quantitative"},"text":{"field":"t"}}},
{"data":{"values":[{"a":113.8,"b":181,"lo":14,"hi":30.2}]},"mark":{"type":"rect","fill":"#ffffff","fillOpacity":0.9,"cornerRadius":12},"encoding":{"x":{"field":"a","type":"quantitative"},"x2":{"field":"b"},"y":{"field":"lo","type":"quantitative"},"y2":{"field":"hi"}}},
{"data":{"values":[{"s":147.9,"v":22.1,"t":"lundi 13 avril 2026"}]},"mark":{"type":"text","font":"DejaVu Sans","fontSize":27,"fontWeight":"bold","fill":"#000000"},"encoding":{"x":{"field":"s","type":"quantitative"},"y":{"field":"v","type":"quantitative"},"text":{"field":"t"}}}
]},
{"width":2251.6,"height":505,"layer":[
{"data":{"values":[{"a":-111.8,"b":2035,"lo":-16.5,"hi":161.2}]},"mark":{"type":"rect","fill":"#ffffff","cornerRadius":10},"encoding":{
"x":{"field":"a","type":"quantitative","scale":{"domain":[-4.13,2016],"nice":false,"zero":false},"title":null,"axis":{"values":[0,288,576,864,1152,1440,1728],"labelExpr":"['mar. 07','mer. 08','jeu. 09','ven. 10','sam. 11','dim. 12','lun. 13'][datum.value/288]","grid":false,"zindex":1,"domain":false,"tickColor":"#888888","tickSize":11,"labelFontSize":19,"labelFont":"DejaVu Sans","labelColor":"#222222","labelPadding":8,"labelOverlap":false,"labelFlush":false}},"x2":{"field":"b"},
"y":{"field":"lo","type":"quantitative","scale":{"domain":[0,140],"nice":false,"zero":false},"title":"kW","axis":{"values":[0,20,40,60,80,100,120,140],"grid":false,"zindex":1,"offset":-4.6,"domainColor":"#666666","tickColor":"#888888","tickSize":11,"labelFontSize":19,"labelFont":"DejaVu Sans","labelColor":"#333333","labelPadding":10,"titleFontSize":19,"titleFont":"DejaVu Sans","titleFontWeight":"normal","titleColor":"#333333","titlePadding":20}},"y2":{"field":"hi"}}},
{"data":{"values":[{"a":0,"b":2016,"lo":0,"hi":140}]},"mark":{"type":"rect","fill":"#efefef"},"encoding":{"x":{"field":"a","type":"quantitative"},"x2":{"field":"b"},"y":{"field":"lo","type":"quantitative"},"y2":{"field":"hi"}}},
{"data":{"values":[{"a":2016,"b":2019.6,"lo":0,"hi":140}]},"mark":{"type":"rect","fill":"#bdbdbd"},"encoding":{"x":{"field":"a","type":"quantitative"},"x2":{"field":"b"},"y":{"field":"lo","type":"quantitative"},"y2":{"field":"hi"}}},
{"data":{"name":"cellsWeek"},"mark":{"type":"rect","fill":"#ffffff","stroke":"#cfcfcf","strokeWidth":1.5},"encoding":{"x":{"field":"a","type":"quantitative"},"x2":{"field":"b"},"y":{"field":"lo","type":"quantitative"},"y2":{"field":"hi"}}},
{"data":{"name":"gridY"},"mark":{"type":"rule","color":"#bcbcbc","strokeWidth":1.5},"encoding":{"y":{"field":"v","type":"quantitative"},"x":{"datum":0,"type":"quantitative"},"x2":{"datum":2016}}},
{"data":{"name":"weekQuiet"},"mark":{"type":"rect","fill":"#a0eec2"},"encoding":{"x":{"field":"a","type":"quantitative"},"x2":{"field":"b"},"y":{"field":"v","type":"quantitative"},"y2":{"datum":0}}},
{"data":{"name":"weekOff"},"mark":{"type":"bar","orient":"vertical","width":2.2,"fill":"#a0eec2"},"encoding":{"x":{"field":"s","type":"quantitative"},"y":{"field":"v","type":"quantitative"}}},
{"data":{"name":"weekOn"},"mark":{"type":"bar","orient":"vertical","width":2.2,"fill":"#239170","opacity":0.85},"encoding":{"x":{"field":"s","type":"quantitative"},"y":{"field":"v","type":"quantitative"}}},
{"data":{"values":[{"v":0}]},"mark":{"type":"rule","color":"#999999","strokeWidth":2},"encoding":{"y":{"field":"v","type":"quantitative"},"x":{"datum":0,"type":"quantitative"},"x2":{"datum":2016}}},
{"data":{"values":[{"a":352.4,"b":723.3,"lo":126.3,"hi":142.9},{"a":834.9,"b":1206.6,"lo":126.3,"hi":142.9},{"a":1292.3,"b":1662.8,"lo":126.3,"hi":142.9}]},"mark":{"type":"rect","fill":"#ffffff","stroke":"#7f7f7f","strokeWidth":3.5,"cornerRadius":10},"encoding":{"x":{"field":"a","type":"quantitative"},"x2":{"field":"b"},"y":{"field":"lo","type":"quantitative"},"y2":{"field":"hi"}}},
{"data":{"values":[{"s":545.9,"v":134.3,"t":"Consommation: 3 544 kWh"},{"s":1029.5,"v":134.3,"t":"P Max :\u00a0 127 kW"},{"s":1485.3,"v":134.3,"t":"P min : 0 kW"}]},"mark":{"type":"text","font":"Noto Sans","fontSize":26.4,"fill":"#000000"},"encoding":{"x":{"field":"s","type":"quantitative"},"y":{"field":"v","type":"quantitative"},"text":{"field":"t"}}},
{"data":{"values":[{"s":1942.8,"v":-12.1,"t":"G2"}]},"mark":{"type":"text","font":"Liberation Sans","fontSize":39,"fontWeight":"bold","fill":"#0f6fb5","align":"left","baseline":"alphabetic"},"encoding":{"x":{"field":"s","type":"quantitative"},"y":{"field":"v","type":"quantitative"},"text":{"field":"t"}}},
{"data":{"values":[{"s":1998,"v":-6.5}]},"mark":{"type":"point","filled":true,"opacity":1,"size":1400,"fill":"#f15a24","shape":"M0.3,-1 L-0.5,0.1 L-0.05,0.1 L-0.3,1 L0.5,-0.2 L0.05,-0.2 Z"},"encoding":{"x":{"field":"s","type":"quantitative"},"y":{"field":"v","type":"quantitative"}}},
{"data":{"values":[{"s":2010,"v":-9.5}]},"mark":{"type":"point","filled":true,"opacity":1,"size":841,"fill":"#f7941d","shape":"M-0.6,-0.9 L1,-0.9 L0.85,-0.5 L-0.75,-0.5 Z M-0.8,-0.2 L0.8,-0.2 L0.65,0.2 L-0.95,0.2 Z M-1,0.5 L0.6,0.5 L0.45,0.9 L-1.15,0.9 Z"},"encoding":{"x":{"field":"s","type":"quantitative"},"y":{"field":"v","type":"quantitative"}}},
{"data":{"values":[{"s":2011.8,"v":-3.2,"t":"FRANCE"}]},"mark":{"type":"text","font":"Liberation Sans","fontSize":8.5,"fontWeight":"bold","fill":"#f7941d"},"encoding":{"x":{"field":"s","type":"quantitative"},"y":{"field":"v","type":"quantitative"},"text":{"field":"t"}}},
{"data":{"values":[{"s":1982.2,"v":-13.9,"t":"Optimisation des ressources énergétiques"}]},"mark":{"type":"text","font":"Liberation Sans","fontSize":5,"fill":"#0f6fb5"},"encoding":{"x":{"field":"s","type":"quantitative"},"y":{"field":"v","type":"quantitative"},"text":{"field":"t"}}}
]}
]}
